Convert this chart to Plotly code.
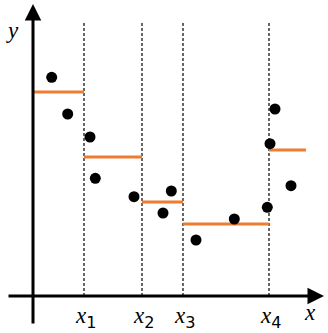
import plotly.graph_objects as go

# Data (x to the right from the y-axis, y upward from the x-axis)
knots = [51, 109, 150, 236]
knot_labels = ["1", "2", "3", "4"]
seg_start = [0, 51, 109, 150, 236]
seg_end = [51, 109, 150, 236, 273]
seg_level = [204, 139, 94, 72, 146]
pts_x = [18.7, 34.7, 57, 62.3, 101, 130, 138.3, 163, 201.3, 234.3, 258, 237, 242]
pts_y = [218.7, 182, 159, 117.7, 99.3, 83, 105, 56, 77, 88.7, 110.3, 152.3, 187]

fig = go.Figure()

# dashed knot lines
for k in knots:
    fig.add_trace(go.Scatter(x=[k, k], y=[0, 275], mode="lines",
                             line=dict(color="black", width=1.2, dash="3px,2px"),
                             hoverinfo="skip", showlegend=False))

# piecewise constant segments
for s, e, v in zip(seg_start, seg_end, seg_level):
    fig.add_trace(go.Scatter(x=[s, e], y=[v, v], mode="lines",
                             line=dict(color="#ED7D31", width=3),
                             hoverinfo="skip", showlegend=False))

# data points
fig.add_trace(go.Scatter(x=pts_x, y=pts_y, mode="markers",
                         marker=dict(color="black", size=11),
                         hoverinfo="skip", showlegend=False))

# axes with arrows
fig.add_annotation(x=291, y=0, ax=-26, ay=0, xref="x", yref="y", axref="x", ayref="y",
                   showarrow=True, arrowhead=2, arrowsize=1.1, arrowwidth=3,
                   arrowcolor="black", text="")
fig.add_annotation(x=0, y=292, ax=0, ay=-29, xref="x", yref="y", axref="x", ayref="y",
                   showarrow=True, arrowhead=2, arrowsize=1.1, arrowwidth=3,
                   arrowcolor="black", text="")

lab_font = dict(family="Liberation Serif", size=23, color="black")
fig.add_annotation(x=-21, y=266, text="<i>y</i>", showarrow=False, font=lab_font)
fig.add_annotation(x=277, y=-16, text="<i>x</i>", showarrow=False, font=lab_font)
for k, t in zip(knots, knot_labels):
    fig.add_annotation(x=k + 1, y=-21,
                       text="<i>x</i><sub><span style='font-family:DejaVu Sans'>" + t + "</span></sub>",
                       showarrow=False, font=lab_font)

fig.update_layout(
    width=328, height=333, margin=dict(l=0, r=0, t=0, b=0),
    paper_bgcolor="white", plot_bgcolor="white",
    xaxis=dict(range=[-33, 295], visible=False, fixedrange=True),
    yaxis=dict(range=[-37, 296], visible=False, fixedrange=True),
)

fig.write_html("out.html")
